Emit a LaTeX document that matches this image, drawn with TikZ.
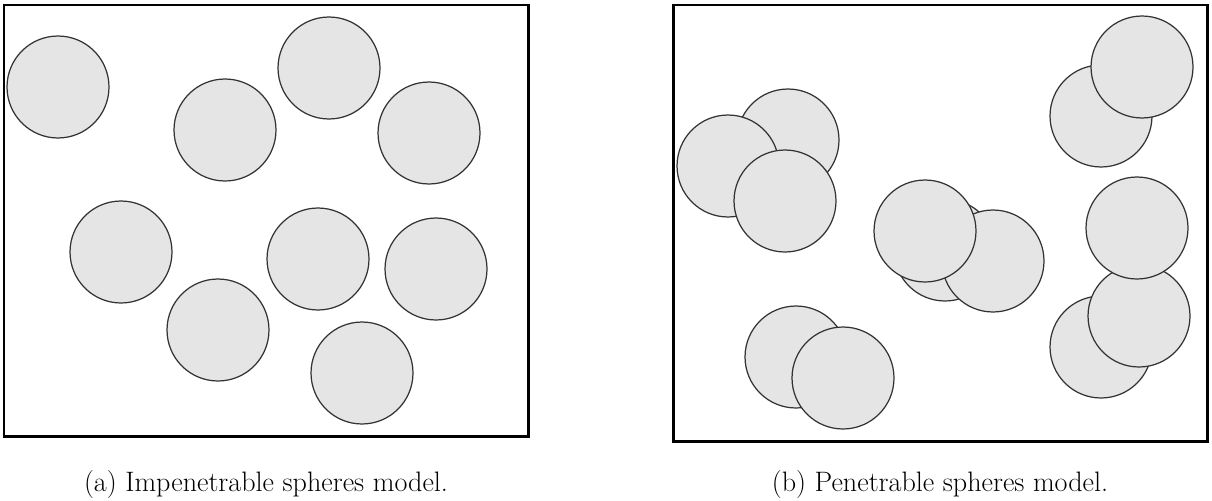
\documentclass[tikz,border=0pt]{standalone}
\usepackage{tikz}
\usepackage{xcolor}
\definecolor{Ink}{HTML}{000000}
\definecolor{SphereFill}{HTML}{E5E5E5}
\definecolor{SphereEdge}{HTML}{333333}
\tikzset{
  box/.style={draw=Ink,line width=1.7pt},
  sphere/.style={draw=SphereEdge,fill=SphereFill,line width=0.7pt},
  caption/.style={anchor=base,font=\fontsize{16}{19}\selectfont}
}

\begin{document}
\begin{tikzpicture}[x=0.02cm,y=-0.02cm]
  \useasboundingbox (0,0) rectangle (1212,500);
  % (a) impenetrable
  \draw[box] (4,5) rectangle (528,436);
  \foreach \px/\py in {58/87,329/68,225/130,429/133,121/252,318/259,436/269,218/330,362/373}
    \draw[sphere] (\px,\py) circle[radius=1.02cm];
  \node[caption] (capa) at (266,491) {(a) Impenetrable spheres model.};
  % (b) penetrable, back to front
  \draw[box] (673,5) rectangle (1207,441);
  \foreach \px/\py in {788/140,728/166,785/201,945/250,993/261,925/231,1101/116,1142/67,1101/347,1139/316,1137/228,796/357,843/378}
    \draw[sphere] (\px,\py) circle[radius=1.02cm];
  \node[caption] (capb) at (940,491) {(b) Penetrable spheres model.};
\end{tikzpicture}
\end{document}
